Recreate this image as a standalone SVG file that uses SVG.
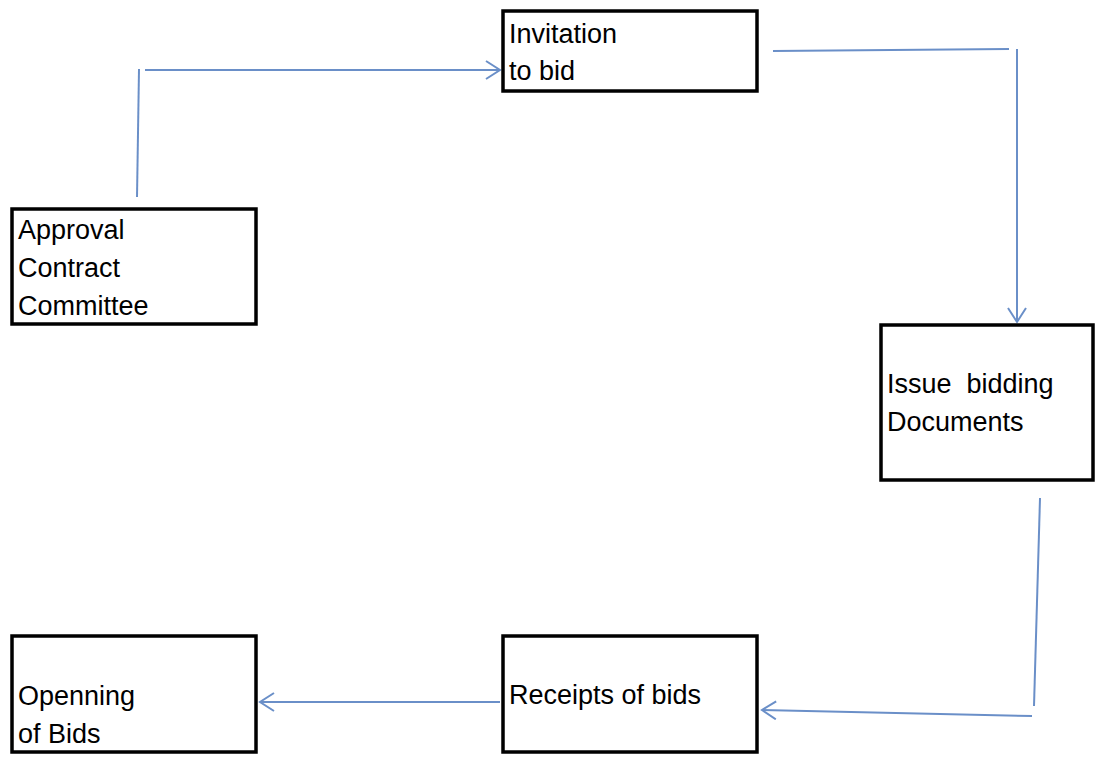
<svg xmlns="http://www.w3.org/2000/svg" width="1097" height="758" viewBox="0 0 1097 758">
<defs>
<style>
.box{fill:#fff;stroke:#000;stroke-width:3.5}
.lbl{font-family:"Liberation Sans",Arial,sans-serif;font-size:27px;fill:#000}
.con{fill:none;stroke:#6a8fc8;stroke-width:2}
</style>
<marker id="arr" markerWidth="18" markerHeight="20" refX="15" refY="10" orient="auto" markerUnits="userSpaceOnUse">
<path d="M1,1 L15,10 L1,19" fill="none" stroke="#6a8fc8" stroke-width="2"/>
</marker>
</defs>
<rect width="1097" height="758" fill="#fff"/>
<g id="connectors">
<line class="con" x1="137" y1="197" x2="139" y2="69"/>
<line class="con" x1="145" y1="70" x2="500" y2="70" marker-end="url(#arr)"/>
<line class="con" x1="773" y1="51" x2="1009" y2="49"/>
<line class="con" x1="1017" y1="49" x2="1017" y2="322" marker-end="url(#arr)"/>
<line class="con" x1="1040" y1="498" x2="1034" y2="706"/>
<line class="con" x1="1032" y1="716" x2="762" y2="710" marker-end="url(#arr)"/>
<line class="con" x1="500" y1="702" x2="260" y2="702" marker-end="url(#arr)"/>
</g>
<g id="invitation">
<rect class="box" x="503" y="11" width="254" height="80"/>
<text class="lbl" x="509" y="43">Invitation</text>
<text class="lbl" x="509" y="80">to bid</text>
</g>
<g id="approval">
<rect class="box" x="12" y="209" width="244" height="115"/>
<text class="lbl" x="18" y="239">Approval</text>
<text class="lbl" x="18" y="277">Contract</text>
<text class="lbl" x="18" y="315">Committee</text>
</g>
<g id="issue">
<rect class="box" x="881" y="325" width="212" height="155"/>
<text class="lbl" x="887" y="393" xml:space="preserve">Issue  bidding</text>
<text class="lbl" x="887" y="431">Documents</text>
</g>
<g id="receipts">
<rect class="box" x="503" y="636" width="254" height="116"/>
<text class="lbl" x="509" y="704">Receipts of bids</text>
</g>
<g id="openning">
<rect class="box" x="12" y="636" width="244" height="116"/>
<text class="lbl" x="18" y="705">Openning</text>
<text class="lbl" x="18" y="743">of Bids</text>
</g>
</svg>
